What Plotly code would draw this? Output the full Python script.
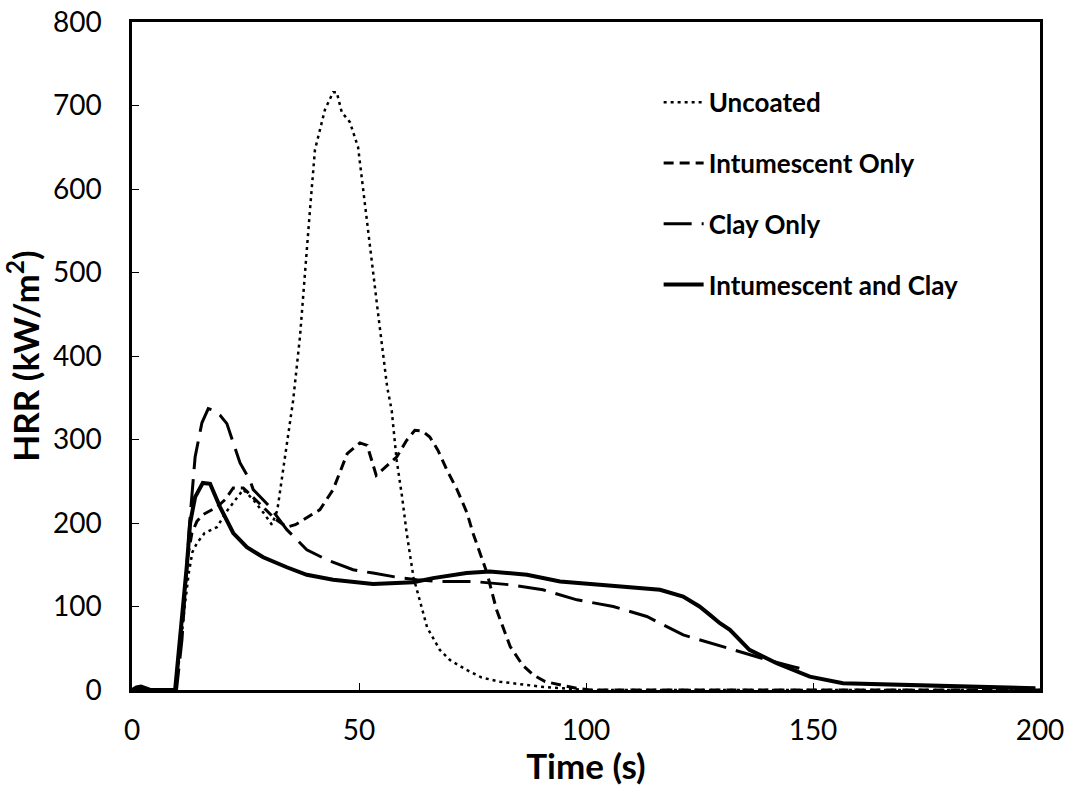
import plotly.graph_objects as go

# ---------------- data ----------------
series_names = ["Uncoated", "Intumescent Only", "Clay Only", "Intumescent and Clay"]

t_uncoated = [0, 1, 2, 3, 4, 9.5, 10.5, 11.5, 12.5, 13.3, 14.3, 16, 18.7, 21, 24.5, 26.7, 29, 30.8,
              32, 33.5, 35.5, 37, 37.7, 39.2, 40.3, 41, 42.5, 44.3, 45.1, 46.2, 48, 49.8, 50.9, 52,
              53.1, 54.2, 56.2, 57.2, 58.3, 59.5, 60.5, 62, 63.5, 65, 67.8, 70, 73.7, 77, 81, 85,
              90, 95, 100, 200]
hrr_uncoated = [0, 2, 3, 2, 0, 0, 40, 95, 140, 165, 176, 188, 195, 215, 240, 228, 212, 198,
                215, 270, 347, 423, 475, 575, 647, 662, 695, 716, 716, 692, 680, 650, 602, 554,
                506, 451, 363, 335, 275, 231, 188, 135, 105, 75, 48, 36, 24, 15, 10, 7,
                4, 2, 0, 0]

t_intum = [0, 9.6, 10.5, 11.5, 12.3, 13.2, 14.3, 15.6, 18.7, 20.5, 22.3, 24.5, 26.5, 28.9, 31.5,
           34.1, 36, 37.7, 41.4, 44.3, 47.4, 50.2, 51.8, 53.8, 55, 57.5, 58.3, 60.5, 62.3, 64,
           65.6, 67.4, 69.4, 71.6, 73.8, 75.1, 76.7, 78.2, 80.3, 83.3, 86, 88.4, 91, 94.3, 98,
           101, 200]
hrr_intum = [0, 0, 50, 110, 160, 188, 202, 210, 219, 228, 242, 242, 232, 219, 205,
             195, 198, 204, 216, 240, 283, 296, 293, 257, 263, 275, 279, 299, 311, 310,
             303, 287, 263, 240, 212, 188, 164, 140, 96, 52, 30, 18, 10, 6, 2,
             0, 0]

t_clay = [0, 9.8, 11, 12, 12.8, 13.9, 15.4, 16.8, 18, 19.4, 20.9, 22.3, 23.8, 26, 26.7, 28.5,
          30.4, 34.1, 38.5, 42.9, 48.7, 53.1, 58.4, 62.7, 68, 75.1, 83.3, 90.5, 98, 106, 113.4,
          121.4, 128.8, 135.4, 140, 145.6, 147]
hrr_clay = [0, 0, 60, 140, 207, 279, 320, 337, 335, 329, 319, 296, 272, 251, 240, 230,
            219, 192, 168, 156, 144, 140, 135, 132, 130, 130, 126, 120, 108, 100, 88,
            66, 54, 44, 36, 28, 26]

t_both = [0, 1, 2, 3, 4, 9.5, 10.5, 11.5, 12.1, 12.8, 13.9, 15.6, 17.2, 19.4, 22.3, 25.3, 28.9,
          34.1, 38.5, 44.3, 53.1, 62, 66.3, 73.7, 78.8, 87, 94.3, 103, 111.9, 116.3, 121.4,
          125, 127.3, 129.5, 131.7, 134.6, 136, 142, 149.3, 156.6, 169, 184, 199]
hrr_both = [0, 3, 4, 2, 0, 0, 55, 115, 150, 200, 231, 248, 247, 219, 188, 171, 159,
            147, 138, 132, 127, 129, 134, 140, 142, 138, 130, 126, 122, 120, 112,
            100, 90, 80, 72, 56, 48, 32, 16, 8, 6, 4, 2]

x_ticks = [0, 50, 100, 150, 200]
y_ticks = [0, 100, 200, 300, 400, 500, 600, 700, 800]

# ---------------- figure ----------------
FONT = "Lato"
fig = go.Figure()

styles = [
    dict(dash="3px,4px", width=2.5),
    dict(dash="10px,6px", width=3),
    dict(dash="28px,10px", width=3),
    dict(dash="solid", width=4),
]
data = [(t_uncoated, hrr_uncoated), (t_intum, hrr_intum), (t_clay, hrr_clay), (t_both, hrr_both)]

for name, (tx, hy), st in zip(series_names, data, styles):
    fig.add_trace(go.Scatter(
        x=tx, y=hy, name="<b>" + name + "</b>", mode="lines", legendgroup=name,
        line=dict(color="black", width=st["width"], dash=st["dash"]),
    ))

axis_common = dict(
    showline=True, linecolor="black", linewidth=2.5, mirror=True,
    ticks="inside", ticklen=7, tickwidth=1, tickcolor="black",
    showgrid=False, zeroline=False, automargin=False,
    tickfont=dict(family=FONT, size=28, color="black"),
)

fig.update_layout(
    width=1069, height=786,
    margin=dict(l=132, r=29, t=22, b=96),
    paper_bgcolor="white", plot_bgcolor="white",
    xaxis=dict(range=[0, 200], tickvals=x_ticks, ticklabelstandoff=14,
               title=dict(text="<b>Time (s)</b>", font=dict(family=FONT, size=35, color="black"), standoff=6),
               **axis_common),
    yaxis=dict(range=[0, 800], tickvals=y_ticks, ticklabelstandoff=22,
               title=dict(text="<b>HRR (kW/m<sup>2</sup>)</b>", font=dict(family=FONT, size=35, color="black"), standoff=6),
               **axis_common),
    legend=dict(x=0.58, y=0.915, xanchor="left", yanchor="top",
                font=dict(family=FONT, size=26, color="black"),
                bgcolor="rgba(0,0,0,0)", tracegroupgap=24, itemwidth=40),
    showlegend=True,
)

fig.write_html("out.html")
